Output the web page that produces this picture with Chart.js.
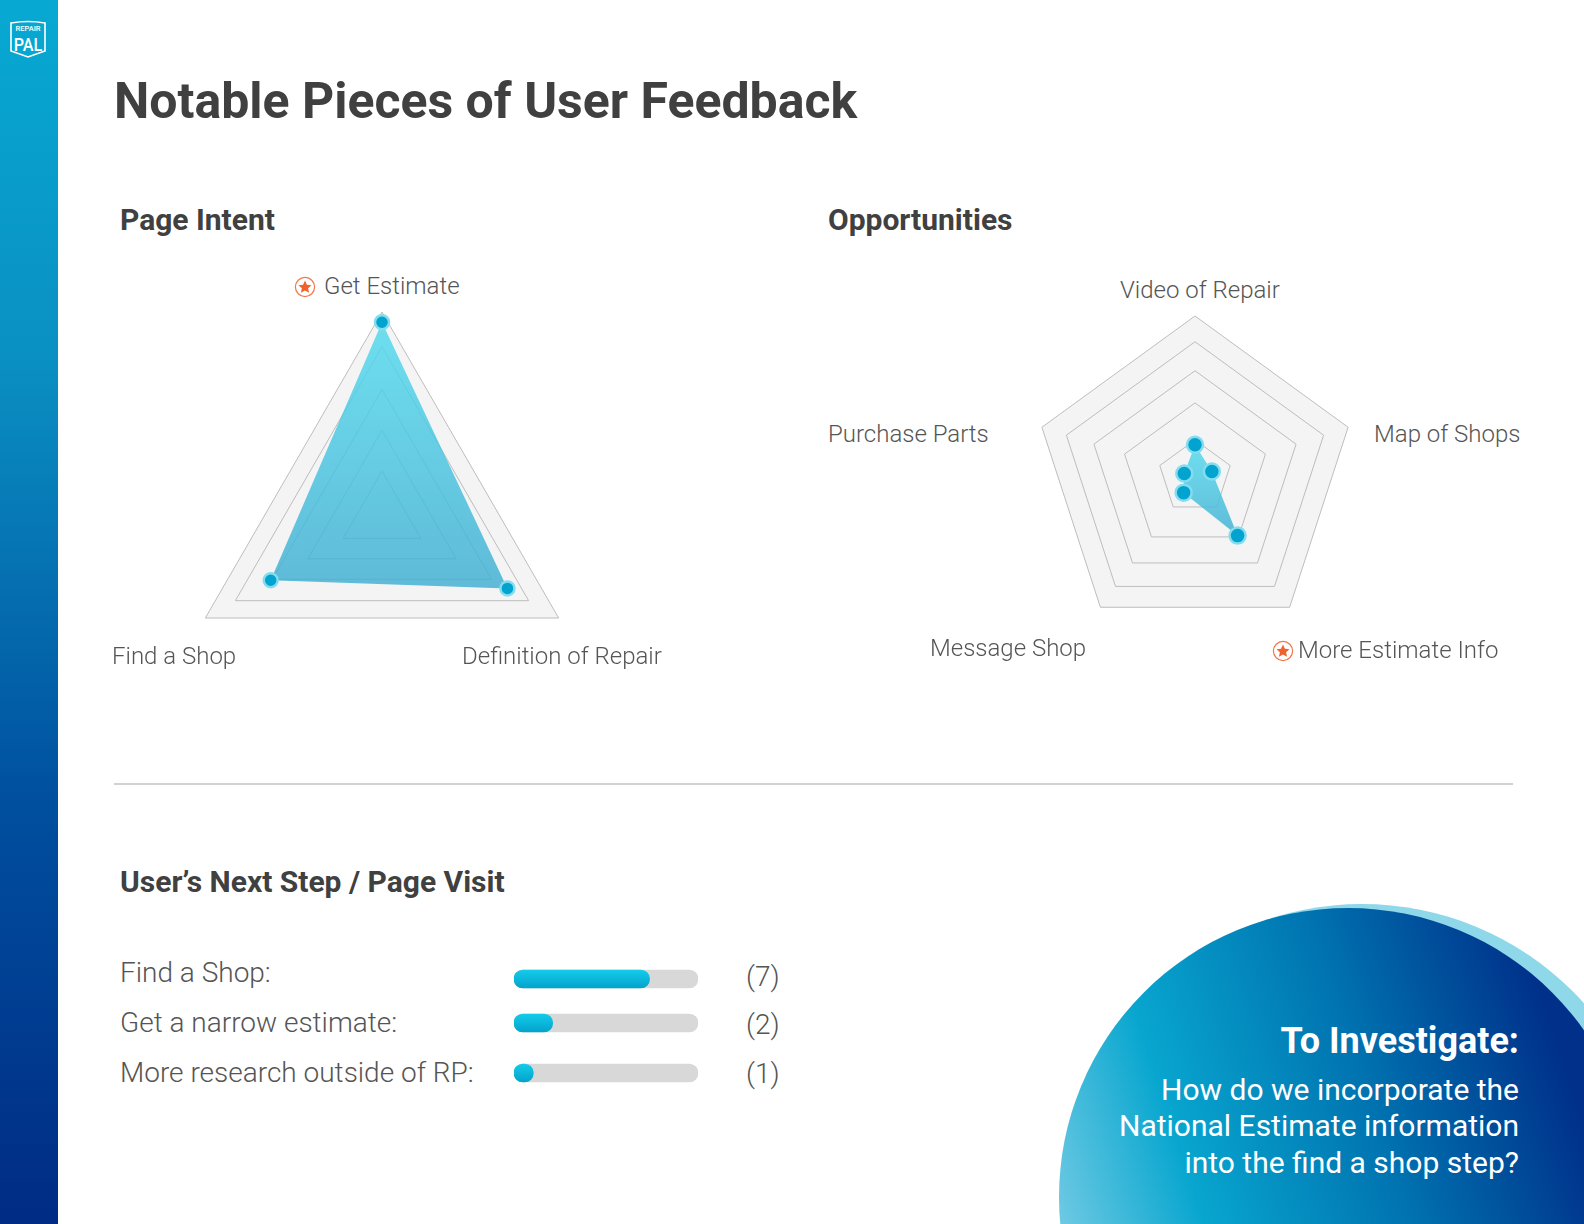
<!DOCTYPE html>
<html>
<head>
<meta charset="utf-8">
<title>Notable Pieces of User Feedback</title>
<script src="https://cdn.jsdelivr.net/npm/chart.js@4"></script>
<style>
  html, body { margin: 0; padding: 0; background: #fff; }
  body { position: relative; width: 1584px; height: 1224px; overflow: hidden; font-family: Roboto, sans-serif; color: #555; }
  canvas { position: absolute; }
  .sidebar { position: absolute; left: 0; top: 0; width: 58px; height: 1224px; background: linear-gradient(180deg, #07a9d2 0%, #0a8fc2 30%, #00509f 65%, #002b84 100%); }
  .logo { position: absolute; left: 8px; top: 18px; }
  .txt { position: absolute; white-space: nowrap; line-height: 1; transform: translateY(-50%); }
  h1, h2 { margin: 0; font-weight: 700; color: #404040; }
  h1 { font-size: 50px; }
  h2 { font-size: 30px; }
  .axis { font-size: 24px; font-weight: 300; }
  .row { font-size: 28px; font-weight: 300; }
  .divider { position: absolute; left: 114px; top: 783px; width: 1399px; height: 2px; background: #d2d2d2; }
  .back-circle, .circle { position: absolute; border-radius: 50%; }
  .back-circle { left: 1064px; top: 904px; width: 596px; height: 596px; background: #8fd8ea; }
  .circle { left: 1059px; top: 908px; width: 578px; height: 578px; background: linear-gradient(72deg, #9ad9ec 3%, #08a6cf 30%, #0073b0 57%, #00308a 84%); }
  .inv { color: #fff; right: 65px; text-align: right; }
  .inv-head { font-size: 36px; font-weight: 700; }
  .inv-line { font-size: 30px; font-weight: 400; }
</style>
</head>
<body>
<div class="sidebar"></div>
<svg class="logo" width="42" height="46" viewBox="0 0 42 46">
  <path d="M3 5 Q20 2 37 5 V33 L20 39 L3 33 Z" fill="none" stroke="#fff" stroke-width="1.6"/>
  <text x="20" y="13" fill="#fff" font-family="Roboto" font-size="7.5" font-weight="500" text-anchor="middle">REPAIR</text>
  <text transform="translate(20 33) scale(0.85 1)" fill="#fff" font-family="Roboto" font-size="19" font-weight="500" text-anchor="middle">PAL</text>
</svg>

<h1 class="txt" style="left:114px;top:101px">Notable Pieces of User Feedback</h1>
<h2 class="txt" style="left:120px;top:220px">Page Intent</h2>
<h2 class="txt" style="left:828px;top:220px">Opportunities</h2>
<div class="divider"></div>
<h2 class="txt" style="left:120px;top:882px">User’s Next Step / Page Visit</h2>

<div class="back-circle"></div>
<div class="circle"></div>
<div class="txt inv inv-head" style="top:1041px">To Investigate:</div>
<div class="txt inv inv-line" style="top:1090px">How do we incorporate the</div>
<div class="txt inv inv-line" style="top:1126px">National Estimate information</div>
<div class="txt inv inv-line" style="top:1163px">into the find a shop step?</div>

<script>
// data (percent of the radar radius)
const intentLabels = ['Get Estimate', 'Definition of Repair', 'Find a Shop'];
const intentValues = [95, 71, 63];
const intentRings = [0, 22, 42, 62, 83, 100];

const oppLabels = ['Video of Repair', 'Map of Shops', 'More Estimate Info', 'Message Shop', 'Purchase Parts'];
const oppValues = [20, 11, 45, 12, 7];
const oppRings = [0, 23, 46, 66, 84, 100];

const stepLabels = ['Find a Shop:', 'Get a narrow estimate:', 'More research outside of RP:'];
const stepValues = [7, 2, 1];
const stepMax = 9.5;

// label spots on the page, same order as the label arrays
const intentSpots = [[324, 286], [462, 656], [112, 656]];
const oppSpots = [[1120, 290], [1374, 434], [1298, 650], [930, 648], [828, 434]];

function addText(text, cls, x, y) {
  const el = document.createElement('div');
  el.className = 'txt ' + cls;
  el.style.left = x + 'px';
  el.style.top = y + 'px';
  el.textContent = text;
  document.body.appendChild(el);
}

function addStar(x, y) {
  const ns = 'http://www.w3.org/2000/svg';
  const svg = document.createElementNS(ns, 'svg');
  svg.setAttribute('width', 22);
  svg.setAttribute('height', 22);
  svg.setAttribute('viewBox', '0 0 22 22');
  svg.style.cssText = `position:absolute;left:${x - 11}px;top:${y - 11}px`;
  svg.innerHTML = '<circle cx="11" cy="11" r="9.6" fill="none" stroke="#f0784a" stroke-width="1.2"/>' +
    '<path d="M11 4.5l1.9 4.2 4.6.5-3.4 3.1 1 4.5L11 14.5l-4.1 2.3 1-4.5-3.4-3.1 4.6-.5z" fill="#f0622c"/>';
  document.body.appendChild(svg);
}

function radarFill(c) {
  const chart = c.chart;
  if (!chart.chartArea) return 'rgba(95,205,228,0.8)';
  const ys = c.dataset.data.map((v, i) => chart.scales.r.getPointPositionForValue(i, v).y);
  const g = chart.ctx.createLinearGradient(0, Math.min(...ys), 0, Math.max(...ys));
  g.addColorStop(0, 'rgba(80,218,238,0.82)');
  g.addColorStop(1, 'rgba(62,174,210,0.82)');
  return g;
}

function makeRadar(left, top, radius, labels, values, rings, dotRadius) {
  const pad = 12;
  const canvas = document.createElement('canvas');
  const size = (radius + pad) * 2;
  canvas.width = size;
  canvas.height = size;
  canvas.style.left = left - radius - pad + 'px';
  canvas.style.top = top - radius - pad + 'px';
  document.body.appendChild(canvas);
  new Chart(canvas, {
    type: 'radar',
    data: {
      labels: labels,
      datasets: [{
        data: values,
        backgroundColor: radarFill,
        borderWidth: 0,
        pointRadius: dotRadius,
        pointBackgroundColor: '#03a3cf',
        pointBorderColor: '#84dcef',
        pointBorderWidth: 2.5
      }]
    },
    options: {
      responsive: false,
      animation: false,
      layout: { padding: pad },
      plugins: { legend: { display: false }, tooltip: { enabled: false } },
      scales: {
        r: {
          min: 0,
          max: 100,
          backgroundColor: '#f4f4f4',
          afterBuildTicks: s => { s.ticks = rings.map(v => ({ value: v })); },
          grid: { color: '#bdbdbd', lineWidth: 1 },
          angleLines: { display: false },
          ticks: { display: false },
          pointLabels: { display: false }
        }
      }
    }
  });
}

function barFill(c) {
  const g = c.chart.ctx.createLinearGradient(0, 6, 0, 24);
  g.addColorStop(0, '#14cbe8');
  g.addColorStop(1, '#02a3cd');
  return g;
}

function makeStepBar(index, centerY) {
  const canvas = document.createElement('canvas');
  canvas.width = 184;
  canvas.height = 30;
  canvas.style.left = '514px';
  canvas.style.top = centerY - 15 + 'px';
  document.body.appendChild(canvas);
  new Chart(canvas, {
    type: 'bar',
    data: {
      labels: [stepLabels[index]],
      datasets: [
        { data: [stepValues[index]], backgroundColor: barFill, order: 1 },
        { data: [stepMax], backgroundColor: '#d8d8d8', order: 2 }
      ]
    },
    options: {
      indexAxis: 'y',
      responsive: false,
      animation: false,
      datasets: { bar: { grouped: false, barThickness: 18, borderRadius: 9, borderSkipped: false } },
      plugins: { legend: { display: false }, tooltip: { enabled: false } },
      scales: {
        x: { display: false, min: 0, max: stepMax },
        y: { display: false }
      }
    }
  });
}

makeRadar(382, 516, 204, intentLabels, intentValues, intentRings, 7);
makeRadar(1195, 477, 161, oppLabels, oppValues, oppRings, 8);

intentLabels.forEach((t, i) => addText(t, 'axis', intentSpots[i][0], intentSpots[i][1]));
oppLabels.forEach((t, i) => addText(t, 'axis', oppSpots[i][0], oppSpots[i][1]));
addStar(305, 287);
addStar(1283, 651);

const rowTextY = [973, 1023, 1073];
const rowBarY = [979, 1023, 1073];
const rowCountY = [977, 1025, 1074];
stepLabels.forEach((t, i) => {
  addText(t, 'row', 120, rowTextY[i]);
  makeStepBar(i, rowBarY[i]);
  addText('(' + stepValues[i] + ')', 'row', 746, rowCountY[i]);
});
</script>
</body>
</html>
